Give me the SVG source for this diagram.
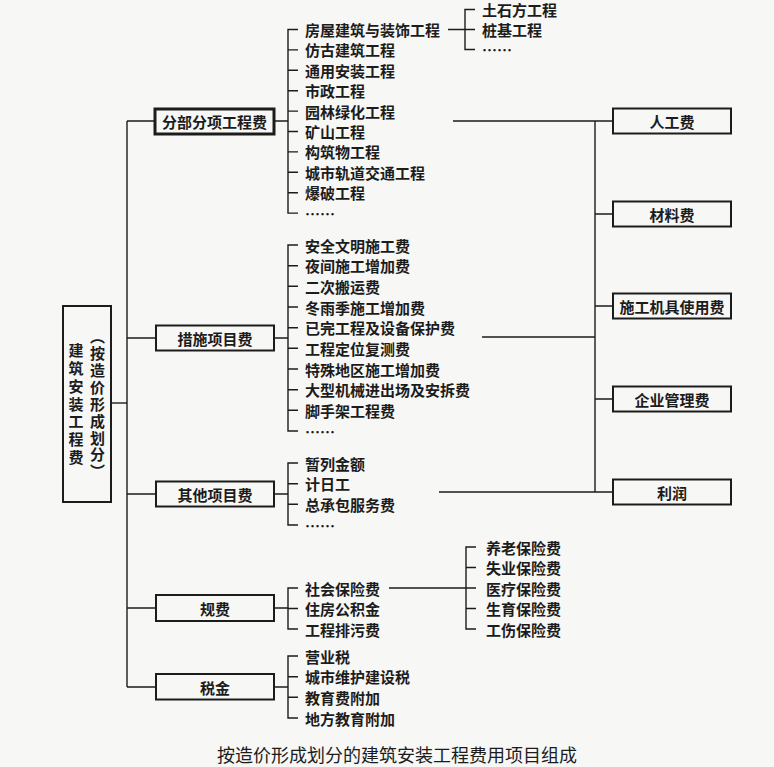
<svg xmlns="http://www.w3.org/2000/svg" width="774" height="767" viewBox="0 0 774 767">
<style>
.bg{fill:#f7f7f5}
.box{fill:none;stroke:#1c1c1c;stroke-width:2}
.boxk{fill:none;stroke:#1c1c1c;stroke-width:3}
.ln{fill:none;stroke:#1c1c1c;stroke-width:1.4}
.t{font-family:"Noto Sans CJK SC","Noto Sans",sans-serif;font-size:15px;font-weight:bold;fill:#1c1c1c;dominant-baseline:central}
.c{text-anchor:middle}
.v{writing-mode:vertical-rl;font-family:"Noto Sans CJK SC",sans-serif;font-size:15px;font-weight:bold;fill:#1c1c1c}
.cap{font-family:"Noto Sans CJK SC",sans-serif;font-size:18px;font-weight:normal;fill:#1c1c1c;dominant-baseline:central;text-anchor:middle}
</style>
<rect class="bg" x="0" y="0" width="774" height="767"/>

<g id="connectors">
  <path class="ln" d="M127 121 V687"/>
  <path class="ln" d="M111 403 H127"/>
  <path class="ln" d="M127 121 H155 M127 338 H156 M127 494 H156 M127 608 H156 M127 687 H156"/>
  <path class="ln" d="M274 121 H288 M274 338 H288 M274 494 H288 M274 608 H288 M274 687 H288"/>
  <path class="ln" d="M298 29.5 H288 V213.1 H298 M288 49.9 H298 M288 70.3 H298 M288 90.7 H298 M288 111.1 H298 M288 131.5 H298 M288 151.9 H298 M288 172.3 H298 M288 192.7 H298"/>
  <path class="ln" d="M448 29.5 H465 M475 9.5 H465 V49.5 H475 M465 29.5 H475"/>
  <path class="ln" d="M298 245 H288 V431 H298 M288 265.7 H298 M288 286.3 H298 M288 307 H298 M288 327.7 H298 M288 348.3 H298 M288 369 H298 M288 389.7 H298 M288 410.3 H298"/>
  <path class="ln" d="M298 463 H288 V525 H298 M288 483.7 H298 M288 504.3 H298"/>
  <path class="ln" d="M298 588 H288 V629 H298 M288 608.5 H298"/>
  <path class="ln" d="M389 588 H466 M476 547 H466 V629 H476 M466 567.5 H476 M466 588 H476 M466 608.5 H476"/>
  <path class="ln" d="M298 656 H288 V718 H298 M288 676.7 H298 M288 697.3 H298"/>
  <path class="ln" d="M595 121 V492"/>
  <path class="ln" d="M453 121 H613 M595 214 H613 M595 306 H613 M595 399 H613 M439 492 H613 M482 337 H595"/>
</g>

<g id="main">
  <rect class="box" x="63" y="306" width="48" height="196"/>
  <text class="v" x="76" y="343" style="letter-spacing:2.8px">建筑安装工程费</text>
  <text class="v" x="97.5" y="329" style="letter-spacing:1.9px">（按造价形成划分）</text>
</g>

<g id="fbfx">
  <rect class="boxk" x="155" y="109" width="119" height="25"/>
  <text class="t c" x="214.5" y="121.5">分部分项工程费</text>
</g>
<g id="fbfx-items">
  <text class="t" x="305" y="29.5">房屋建筑与装饰工程</text>
  <text class="t" x="305" y="49.9">仿古建筑工程</text>
  <text class="t" x="305" y="70.3">通用安装工程</text>
  <text class="t" x="305" y="90.7">市政工程</text>
  <text class="t" x="305" y="111.1">园林绿化工程</text>
  <text class="t" x="305" y="131.5">矿山工程</text>
  <text class="t" x="305" y="151.9">构筑物工程</text>
  <text class="t" x="305" y="172.3">城市轨道交通工程</text>
  <text class="t" x="305" y="192.7">爆破工程</text>
  <text class="t" x="305" y="213.1">……</text>
</g>
<g id="fwjz-items">
  <text class="t" x="482" y="9.5">土石方工程</text>
  <text class="t" x="482" y="29.5">桩基工程</text>
  <text class="t" x="482" y="49.5">……</text>
</g>

<g id="cs">
  <rect class="box" x="156" y="325.5" width="118" height="25"/>
  <text class="t c" x="215" y="338">措施项目费</text>
</g>
<g id="cs-items">
  <text class="t" x="305" y="245">安全文明施工费</text>
  <text class="t" x="305" y="265.7">夜间施工增加费</text>
  <text class="t" x="305" y="286.3">二次搬运费</text>
  <text class="t" x="305" y="307">冬雨季施工增加费</text>
  <text class="t" x="305" y="327.7">已完工程及设备保护费</text>
  <text class="t" x="305" y="348.3">工程定位复测费</text>
  <text class="t" x="305" y="369">特殊地区施工增加费</text>
  <text class="t" x="305" y="389.7">大型机械进出场及安拆费</text>
  <text class="t" x="305" y="410.3">脚手架工程费</text>
  <text class="t" x="305" y="431">……</text>
</g>

<g id="qt">
  <rect class="box" x="156" y="481.5" width="118" height="25"/>
  <text class="t c" x="215" y="494">其他项目费</text>
</g>
<g id="qt-items">
  <text class="t" x="305" y="463">暂列金额</text>
  <text class="t" x="305" y="483.7">计日工</text>
  <text class="t" x="305" y="504.3">总承包服务费</text>
  <text class="t" x="305" y="525">……</text>
</g>

<g id="gf">
  <rect class="box" x="156" y="595" width="118" height="26"/>
  <text class="t c" x="215" y="608">规费</text>
</g>
<g id="gf-items">
  <text class="t" x="305" y="588">社会保险费</text>
  <text class="t" x="305" y="608.5">住房公积金</text>
  <text class="t" x="305" y="629">工程排污费</text>
</g>
<g id="sb-items">
  <text class="t" x="486" y="547">养老保险费</text>
  <text class="t" x="486" y="567.5">失业保险费</text>
  <text class="t" x="486" y="588">医疗保险费</text>
  <text class="t" x="486" y="608.5">生育保险费</text>
  <text class="t" x="486" y="629">工伤保险费</text>
</g>

<g id="sj">
  <rect class="box" x="156" y="674" width="118" height="25.5"/>
  <text class="t c" x="215" y="687">税金</text>
</g>
<g id="sj-items">
  <text class="t" x="305" y="656">营业税</text>
  <text class="t" x="305" y="676.7">城市维护建设税</text>
  <text class="t" x="305" y="697.3">教育费附加</text>
  <text class="t" x="305" y="718">地方教育附加</text>
</g>

<g id="rgf">
  <rect class="box" x="613" y="108.5" width="118" height="25"/>
  <text class="t c" x="672" y="121">人工费</text>
</g>
<g id="clf">
  <rect class="box" x="613" y="201.5" width="118" height="25"/>
  <text class="t c" x="672" y="214">材料费</text>
</g>
<g id="jjf">
  <rect class="box" x="613" y="293.5" width="118" height="25"/>
  <text class="t c" x="672" y="306">施工机具使用费</text>
</g>
<g id="glf">
  <rect class="box" x="613" y="386.5" width="118" height="25"/>
  <text class="t c" x="672" y="399">企业管理费</text>
</g>
<g id="lr">
  <rect class="box" x="613" y="479.5" width="118" height="25"/>
  <text class="t c" x="672" y="492">利润</text>
</g>

<g id="caption">
  <text class="cap" x="397" y="754">按造价形成划分的建筑安装工程费用项目组成</text>
</g>
</svg>
